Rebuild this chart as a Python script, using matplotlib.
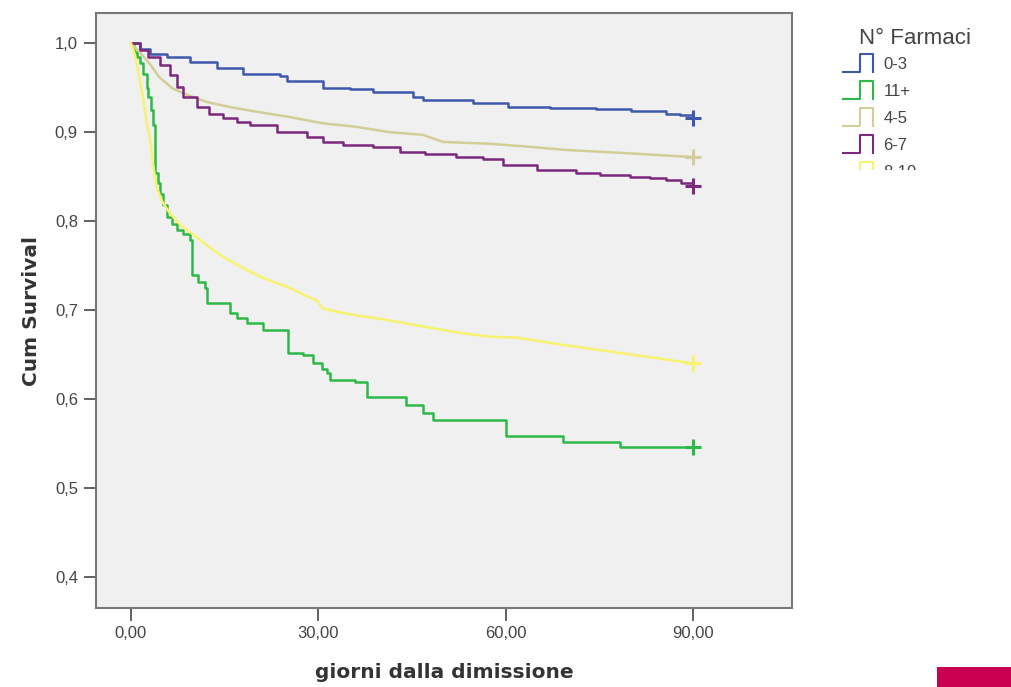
import matplotlib.pyplot as plt
from matplotlib.legend_handler import HandlerBase
from matplotlib.lines import Line2D
from matplotlib.patches import Rectangle
from matplotlib.ticker import FuncFormatter

# Kaplan-Meier curves (days, cumulative survival)
days_03 = [0, 1.4, 3, 5.7, 9.4, 13.7, 18, 23.8, 24.9, 30.8, 35, 38.7, 45.1, 46.7, 54.7, 60.3, 67, 74.5, 80, 85.7,
           87.8, 90]
surv_03 = [1.0, 0.994, 0.988, 0.984, 0.979, 0.972, 0.965, 0.963, 0.957, 0.950, 0.948, 0.945, 0.940, 0.936, 0.933,
           0.928, 0.927, 0.926, 0.924, 0.921, 0.919, 0.916]

days_45 = [0, 1, 2, 3, 4.5, 6.7, 9, 12.1, 16, 20.1, 25.4, 30.7, 36.1, 41.4, 46.7, 50, 57.4, 63, 69.7, 75, 80.3, 85,
           90]
surv_45 = [1.0, 0.993, 0.985, 0.977, 0.962, 0.949, 0.942, 0.934, 0.928, 0.923, 0.917, 0.910, 0.906, 0.900, 0.897,
           0.889, 0.887, 0.884, 0.880, 0.878, 0.876, 0.874, 0.872]

days_67 = [0, 1.4, 2.7, 4.6, 6.2, 7.3, 8.4, 10.5, 12.5, 14.7, 17, 19, 23.3, 28.1, 30.7, 34, 38.7, 43, 47, 52.1, 56.3,
           59.6, 65, 71.3, 75, 79.8, 83, 85.7, 88, 90]
surv_67 = [1.0, 0.992, 0.985, 0.975, 0.964, 0.951, 0.940, 0.928, 0.921, 0.916, 0.911, 0.908, 0.900, 0.895, 0.889,
           0.886, 0.883, 0.878, 0.875, 0.872, 0.870, 0.863, 0.858, 0.854, 0.852, 0.850, 0.848, 0.846, 0.843, 0.840]

days_11 = [0, 0.5, 1, 1.4, 2, 2.5, 2.7, 3.2, 3.5, 3.9, 4.3, 4.6, 5.2, 5.7, 6.5, 7.4, 8.4, 9.4, 9.7, 10.8, 11.9, 12.2,
           15.5, 15.8, 17, 18.5, 21.1, 25.1, 27.5, 29.1, 30.5, 31.4, 31.8, 35.8, 37.7, 41.7, 44, 46.7, 48.3, 60.1, 69.1,
           78.2, 90]
surv_11 = [1.0, 0.99, 0.984, 0.978, 0.965, 0.95, 0.939, 0.925, 0.908, 0.854, 0.843, 0.831, 0.818, 0.805, 0.797, 0.790,
           0.785, 0.779, 0.739, 0.732, 0.725, 0.708, 0.708, 0.697, 0.691, 0.685, 0.678, 0.652, 0.649, 0.640, 0.634,
           0.629, 0.621, 0.619, 0.602, 0.602, 0.593, 0.584, 0.576, 0.558, 0.552, 0.546, 0.546]

days_810 = [0, 0.5, 1, 1.5, 2, 2.5, 3, 3.5, 4.1, 5, 6.2, 8, 10.5, 12.5, 14.7, 17.5, 20.2, 23, 25.4, 28, 29.7, 30.7, 33,
            36.1, 40, 44, 48, 52, 57.4, 61.8, 68, 75, 79, 83, 87, 90]
surv_810 = [1.0, 0.99, 0.975, 0.955, 0.935, 0.912, 0.895, 0.865, 0.838, 0.822, 0.809, 0.795, 0.782, 0.771, 0.760, 0.749,
            0.739, 0.731, 0.725, 0.716, 0.711, 0.702, 0.698, 0.694, 0.690, 0.685, 0.680, 0.675, 0.670, 0.669, 0.662,
            0.655, 0.651, 0.647, 0.643, 0.640]

labels = ["0-3", "11+", "4-5", "6-7", "8-10"]
colors = ["#3e58ac", "#2eb848", "#d3ce97", "#7c287d", "#f8f36e"]
curves = [(days_03, surv_03), (days_11, surv_11), (days_45, surv_45), (days_67, surv_67), (days_810, surv_810)]
# the two curves with many events look smooth in the original
stepped = [True, True, False, True, False]

y_ticks = [0.4, 0.5, 0.6, 0.7, 0.8, 0.9, 1.0]
x_ticks = [0, 30, 60, 90]

TICK_FONT = "Liberation Sans"


class StepHandler(HandlerBase):
    def create_artists(self, legend, orig_handle, xdescent, ydescent, width, height, fontsize, trans):
        x0, y0 = -xdescent, -ydescent
        xs = [x0, x0 + 0.55 * width, x0 + 0.55 * width, x0 + width, x0 + width]
        ys = [y0, y0, y0 + height, y0 + height, y0]
        ln = Line2D(xs, ys, color=orig_handle.get_color(), lw=1.5, transform=trans)
        return [ln]


fig = plt.figure(figsize=(10.12, 6.87), dpi=100)
ax = fig.add_axes([96 / 1012, 1 - 608 / 687, (792 - 96) / 1012, (608 - 13) / 687])
ax.set_facecolor("#f0f0f0")

handles = []
for (d, s), c, lab, st in zip(curves, colors, labels, stepped):
    h, = ax.plot(d, s, drawstyle="steps-post" if st else "default", color=c, lw=1.8, label=lab)
    ax.plot(d[-1], s[-1], marker="+", ms=11, mew=2.2, color=c)
    handles.append(h)

ax.set_xlim(-5.6, 105.8)
ax.set_ylim(0.365, 1.034)
ax.set_xticks(x_ticks)
ax.set_yticks(y_ticks)
ax.xaxis.set_major_formatter(FuncFormatter(lambda v, p: f"{v:.2f}".replace(".", ",")))
ax.yaxis.set_major_formatter(FuncFormatter(lambda v, p: f"{v:.1f}".replace(".", ",")))
ax.tick_params(direction="out", length=9, width=1.3, color="#555555", labelcolor="#444444",
               labelsize=12, pad=4)
for t in ax.get_xticklabels() + ax.get_yticklabels():
    t.set_family(TICK_FONT)
for sp in ax.spines.values():
    sp.set_color("#777777")
    sp.set_linewidth(1.5)

ax.set_ylabel("Cum Survival", fontsize=14.5, fontweight="bold", color="#333333", labelpad=10)
ax.set_xlabel("giorni dalla dimissione", fontsize=14.5, fontweight="bold", color="#333333", labelpad=16)

# legend title sits indented to the right of the step icons, so it is placed on its own
fig.text(859 / 1012, 1 - 38 / 687, "N° Farmaci", family=TICK_FONT, fontsize=16, color="#444444",
         ha="left", va="center")
leg = ax.legend(handles=handles, labels=labels, loc="upper left",
                bbox_to_anchor=(835 / 1012, 1 - 46 / 687), bbox_transform=fig.transFigure,
                frameon=False, prop={"family": TICK_FONT, "size": 12},
                handler_map={Line2D: StepHandler()}, handlelength=1.8, handleheight=1.25,
                labelspacing=0.56, handletextpad=0.6, borderpad=0)
for t in leg.get_texts():
    t.set_color("#444444")

# the lower part of the legend is hidden in the original
fig.patches.append(Rectangle((815 / 1012, 1 - 360 / 687), 197 / 1012, (360 - 170) / 687,
                             transform=fig.transFigure, facecolor="white", edgecolor="none", zorder=5))
# red tab in the bottom right corner
fig.patches.append(Rectangle((937 / 1012, 0), 75 / 1012, 20 / 687,
                             transform=fig.transFigure, facecolor="#c8004f", edgecolor="none", zorder=5))

fig.savefig("out.png", dpi=100)
